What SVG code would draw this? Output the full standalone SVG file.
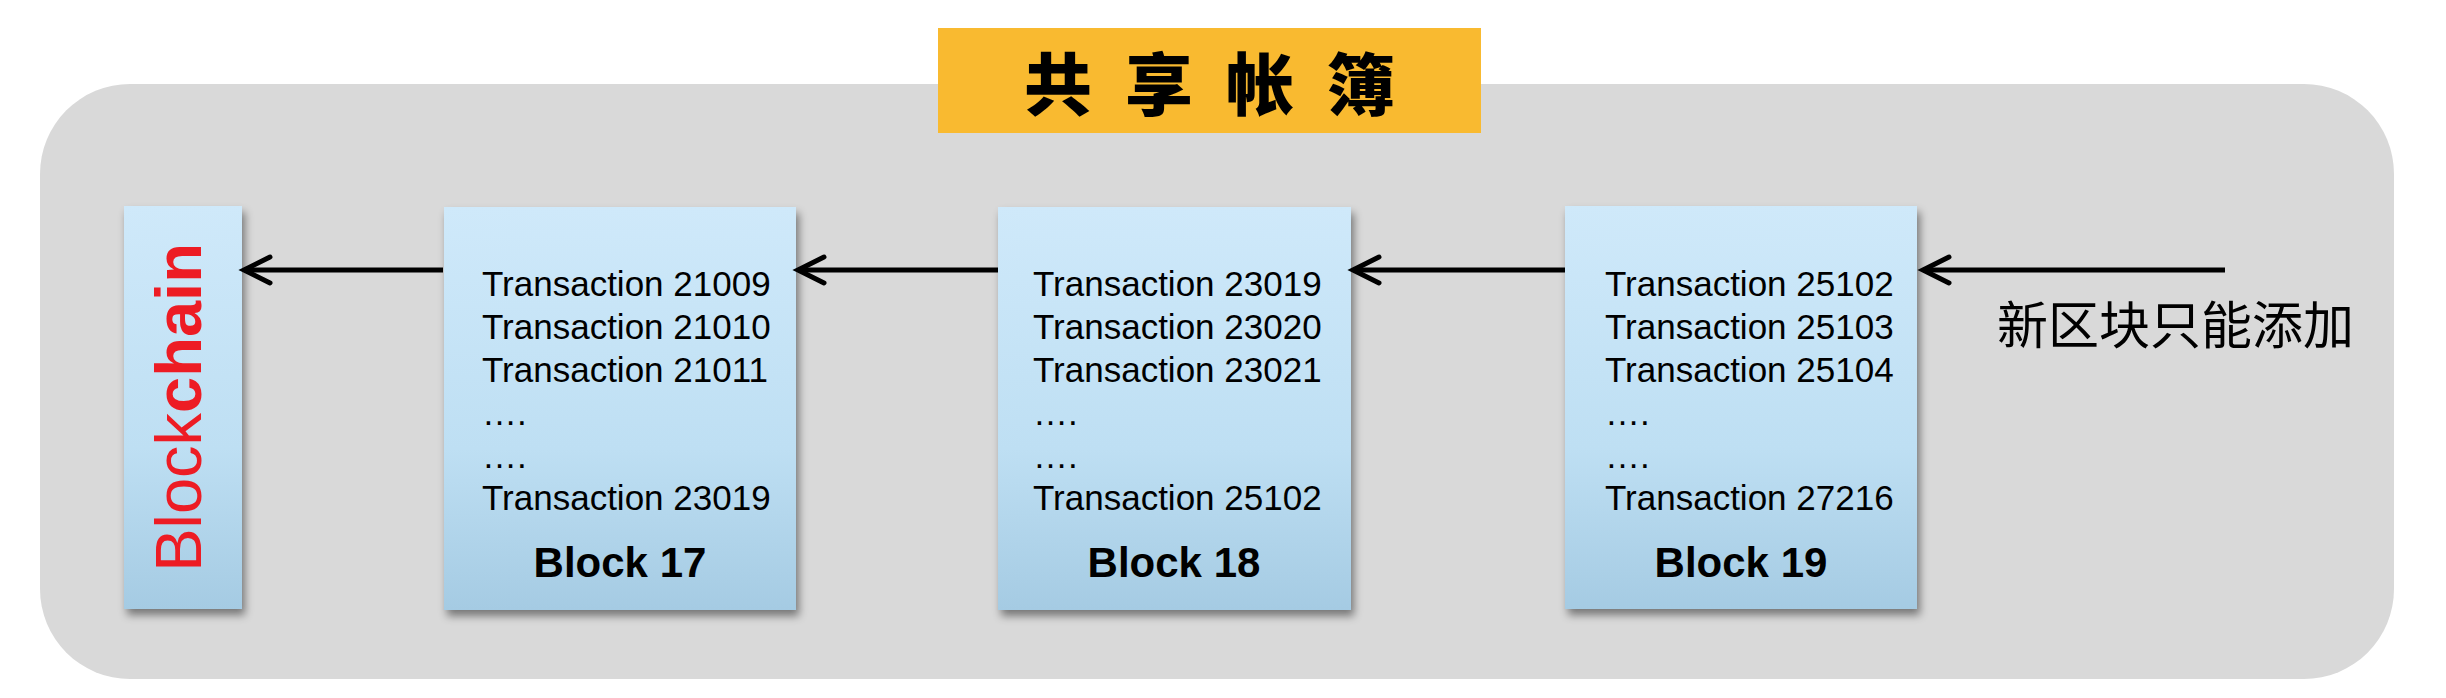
<svg xmlns="http://www.w3.org/2000/svg" width="2446" height="698" viewBox="0 0 2446 698">
<style>
.tx{font-family:"Liberation Sans",Arial,sans-serif;font-size:35px;fill:#000}
.bl{font-family:"Liberation Sans",Arial,sans-serif;font-size:42px;font-weight:bold;fill:#000;text-anchor:middle}
.box{fill:url(#blue);filter:url(#sh)}
.conn{stroke:#000;stroke-width:5;fill:none;marker-end:url(#head)}
.ttl{font-family:"Noto Sans CJK SC","Noto Sans CJK TC",sans-serif;font-size:68px;font-weight:900;fill:#000;text-anchor:middle;dominant-baseline:central}
</style>
<defs>
<linearGradient id="blue" x1="0" y1="0" x2="0" y2="1">
<stop offset="0" stop-color="#CFE9FA"/>
<stop offset="0.6" stop-color="#BEDFF3"/>
<stop offset="1" stop-color="#A5CBE3"/>
</linearGradient>
<filter id="sh" x="-10%" y="-10%" width="130%" height="130%">
<feDropShadow dx="3" dy="6" stdDeviation="4" flood-color="#000" flood-opacity="0.45"/>
</filter>
<marker id="head" markerUnits="userSpaceOnUse" markerWidth="40" markerHeight="40" viewBox="-32 -20 40 40" refX="0" refY="0" orient="auto" overflow="visible">
<path d="M-26,-13 L0,0 L-26,13" fill="none" stroke="#000" stroke-width="5" stroke-linecap="round" stroke-linejoin="miter"/>
</marker>
</defs>

<g id="ledger">
<rect x="40" y="84" width="2354" height="595" rx="90" ry="90" fill="#D9D9D9"/>
</g>

<g id="title">
<rect x="938" y="28" width="543" height="105" fill="#F9BA30"/>
<text class="ttl" x="1058" y="80">共</text>
<text class="ttl" x="1159" y="80">享</text>
<text class="ttl" x="1260" y="80">帐</text>
<text class="ttl" x="1361" y="80">簿</text>
</g>

<g id="blockchain">
<rect class="box" x="124" y="206" width="118" height="403"/>
<text transform="translate(201,407.5) rotate(-90)" text-anchor="middle" font-family="'Liberation Sans',Arial,sans-serif" font-size="65" fill="#ED1C24">Block<tspan font-weight="bold">chain</tspan></text>
</g>

<g id="block17">
<rect class="box" x="444" y="207" width="352" height="403"/>
<text class="tx" x="482" y="296">Transaction 21009</text>
<text class="tx" x="482" y="339">Transaction 21010</text>
<text class="tx" x="482" y="382">Transaction 21011</text>
<text class="tx" x="482" y="425">….</text>
<text class="tx" x="482" y="468">….</text>
<text class="tx" x="482" y="510">Transaction 23019</text>
<text class="bl" x="620" y="577">Block 17</text>
</g>

<g id="block18">
<rect class="box" x="998" y="207" width="353" height="403"/>
<text class="tx" x="1033" y="296">Transaction 23019</text>
<text class="tx" x="1033" y="339">Transaction 23020</text>
<text class="tx" x="1033" y="382">Transaction 23021</text>
<text class="tx" x="1033" y="425">….</text>
<text class="tx" x="1033" y="468">….</text>
<text class="tx" x="1033" y="510">Transaction 25102</text>
<text class="bl" x="1174" y="577">Block 18</text>
</g>

<g id="block19">
<rect class="box" x="1565" y="206" width="352" height="403"/>
<text class="tx" x="1605" y="296">Transaction 25102</text>
<text class="tx" x="1605" y="339">Transaction 25103</text>
<text class="tx" x="1605" y="382">Transaction 25104</text>
<text class="tx" x="1605" y="425">….</text>
<text class="tx" x="1605" y="468">….</text>
<text class="tx" x="1605" y="510">Transaction 27216</text>
<text class="bl" x="1741" y="577">Block 19</text>
</g>

<g id="newblock">
<text x="1997" y="322" font-family="'Noto Sans CJK SC','Noto Sans CJK TC',sans-serif" font-size="51" fill="#000" dominant-baseline="central">新区块只能添加</text>
</g>

<g id="connectors">
<line class="conn" x1="443" y1="270" x2="244" y2="270"/>
<line class="conn" x1="998" y1="270" x2="798" y2="270"/>
<line class="conn" x1="1565" y1="270" x2="1353" y2="270"/>
<line class="conn" x1="2225" y1="270" x2="1923" y2="270"/>
</g>
</svg>
